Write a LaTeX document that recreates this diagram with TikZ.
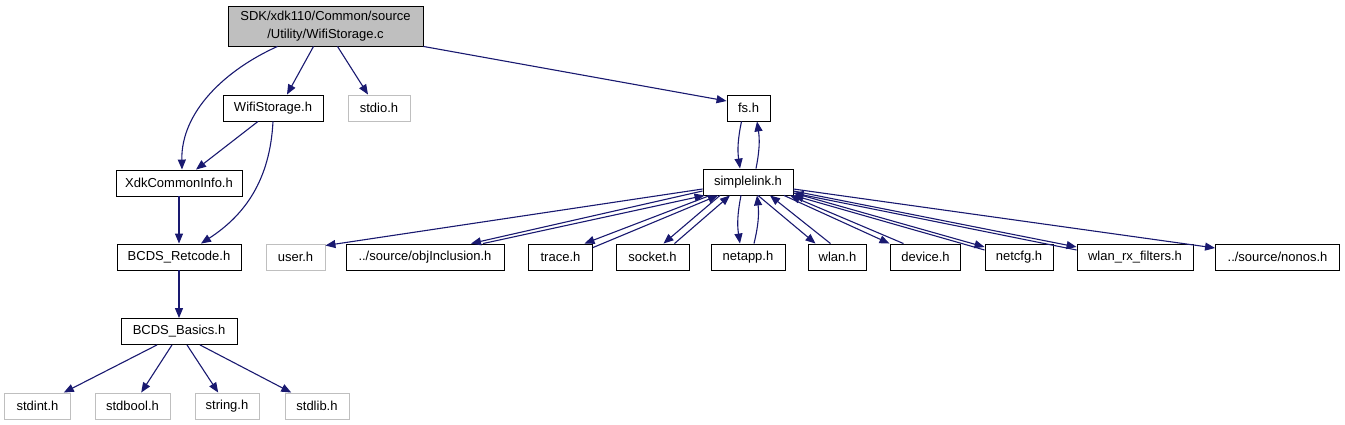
\documentclass[tikz,border=0pt]{standalone}
\usepackage{fontspec}
\setmainfont{Liberation Sans}
\usetikzlibrary{arrows.meta}
\definecolor{edgeblue}{HTML}{191970}
\definecolor{extgrey}{HTML}{BFBFBF}
\tikzset{
  hdr/.style={draw=black, line width=0.9pt, minimum height=26, inner sep=0pt, font=\fontsize{13}{18}\selectfont},
  ext/.style={hdr, draw=extgrey},
  dep/.style={edgeblue, line width=1.1pt, -{Triangle[length=10pt,width=8pt]}}
}

\begin{document}
\begin{tikzpicture}[x=1pt,y=-1pt]
    \useasboundingbox (0,0) rectangle (1345,425);
    \node[hdr, fill=extgrey, minimum width=195, minimum height=40, align=center] (wific) at (325.5,26) {SDK/xdk110/Common/source\\/Utility/WifiStorage.c};
    \node[hdr, minimum width=100] (wifih) at (273,108) {WifiStorage.h};
    \node[ext, minimum width=62] (stdio) at (379,108) {stdio.h};
    \node[hdr, minimum width=43] (fs) at (748.5,108) {fs.h};
    \node[hdr, minimum width=126] (xdk) at (179,183) {XdkCommonInfo.h};
    \node[hdr, minimum width=90] (simp) at (748,182) {simplelink.h};
    \node[hdr, minimum width=124] (retcode) at (179,257) {BCDS\_Retcode.h};
    \node[hdr, minimum width=116] (basics) at (179,331.5) {BCDS\_Basics.h};
    \node[ext, minimum width=66] (stdint) at (37.5,406) {stdint.h};
    \node[ext, minimum width=75] (stdbool) at (132.5,406) {stdbool.h};
    \node[ext, minimum width=64] (string) at (227,406) {string.h};
    \node[ext, minimum width=64] (stdlib) at (317,406) {stdlib.h};
    \node[ext, minimum width=59] (user) at (295.5,257) {user.h};
    \node[hdr, minimum width=158] (objinc) at (425,257) {../source/objInclusion.h};
    \node[hdr, minimum width=64] (trace) at (560.5,257) {trace.h};
    \node[hdr, minimum width=73] (socket) at (652.5,257) {socket.h};
    \node[hdr, minimum width=74] (netapp) at (748,257) {netapp.h};
    \node[hdr, minimum width=58] (wlan) at (837.5,257) {wlan.h};
    \node[hdr, minimum width=70] (device) at (925.5,257) {device.h};
    \node[hdr, minimum width=68] (netcfg) at (1019,257) {netcfg.h};
    \node[hdr, minimum width=116] (wlanrx) at (1135,257) {wlan\_rx\_filters.h};
    \node[hdr, minimum width=124] (nonos) at (1277.5,257) {../source/nonos.h};

    \draw[dep] ([xshift=-48pt]wific.south) .. controls (225,70) and (181,112) .. ([xshift=3pt]xdk.north);
    \draw[dep] ([xshift=-12pt]wific.south) -- ([xshift=14pt]wifih.north);
    \draw[dep] ([xshift=12pt]wific.south) -- ([xshift=-11pt]stdio.north);
    \draw[dep] (wific.south east) -- ([yshift=7pt]fs.west);
    \draw[dep] ([xshift=-15pt]wifih.south) -- ([xshift=17pt]xdk.north);
    \draw[dep] (wifih.south) .. controls (270,180) and (245,215) .. ([xshift=22pt]retcode.north);
    \draw[dep] (xdk) -- (retcode);
    \draw[dep] (retcode) -- (basics);
    \draw[dep] ([xshift=-22pt]basics.south) -- (stdint);
    \draw[dep] ([xshift=-7pt]basics.south) -- (stdbool);
    \draw[dep] ([xshift=8pt]basics.south) -- (string);
    \draw[dep] ([xshift=21pt]basics.south) -- (stdlib);

    \draw[dep] ([xshift=-7pt]fs.south) to[bend right=10] ([xshift=-8pt]simp.north);
    \draw[dep] ([xshift=8pt]simp.north) to[bend right=10] ([xshift=8.5pt]fs.south);

    \draw[dep] ([yshift=-7pt]simp.west) -- ([yshift=-2pt]user.north east);
    \draw[dep] ([yshift=-9pt]simp.west) -- ([xshift=46pt]objinc.north);
    \draw[dep] ([xshift=58pt]objinc.north) -- ([xshift=2pt]simp.south west);
    \draw[dep] ([xshift=-38pt]simp.south) -- ([xshift=24pt]trace.north);
    \draw[dep] ([yshift=-4pt]trace.north east) -- ([xshift=-30pt]simp.south);
    \draw[dep] ([xshift=-28pt]simp.south) -- ([xshift=11pt]socket.north);
    \draw[dep] ([xshift=22pt]socket.north) -- ([xshift=-18pt]simp.south);
    \draw[dep] ([xshift=-7pt]simp.south) to[bend right=10] ([xshift=-8pt]netapp.north);
    \draw[dep] ([xshift=6pt]netapp.north) to[bend right=10] ([xshift=9pt]simp.south);
    \draw[dep] ([xshift=10pt]simp.south) -- ([xshift=-22pt]wlan.north);
    \draw[dep] ([xshift=-7pt]wlan.north) -- ([xshift=22pt]simp.south);
    \draw[dep] ([xshift=36pt]simp.south) -- ([xshift=-36pt]device.north);
    \draw[dep] ([xshift=-22pt]device.north) -- ([xshift=42pt]simp.south);
    \draw[dep] ([yshift=-11pt]simp.east) -- ([yshift=10pt]netcfg.west);
    \draw[dep] ([yshift=7pt]netcfg.west) -- (simp.south east);
    \draw[dep] ([yshift=-9pt]simp.east) -- ([yshift=10pt]wlanrx.west);
    \draw[dep] ([yshift=7pt]wlanrx.west) -- ([yshift=-11pt]simp.east);
    \draw[dep] ([yshift=-7pt]simp.east) -- ([yshift=9pt]nonos.west);
\end{tikzpicture}
\end{document}
